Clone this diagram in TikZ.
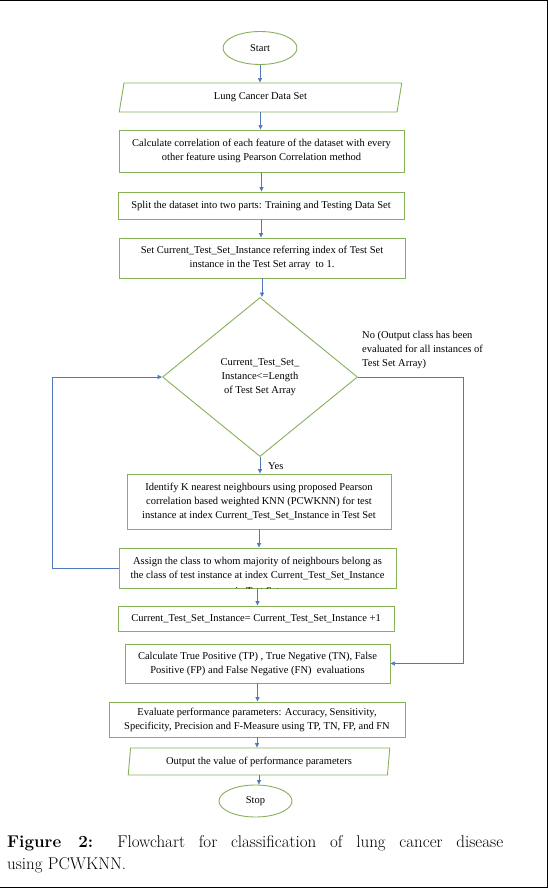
\documentclass[tikz,border=0pt]{standalone}
\usepackage{fontspec}
\newfontfamily\tnr{Liberation Serif}
\usetikzlibrary{shapes.geometric,arrows.meta}
\definecolor{boxgreen}{RGB}{135,176,90}
\definecolor{arrblue}{RGB}{80,120,190}
\begin{document}
\begin{tikzpicture}[x=1pt,y=-1pt,
  txt/.style={font=\tnr\fontsize{10.5}{14}\selectfont},
  box/.style={txt,draw=boxgreen,line width=0.9pt,rectangle,inner sep=0pt,align=center},
  term/.style={txt,draw=boxgreen,line width=0.9pt,ellipse,inner sep=0pt},
  io/.style={txt,draw=boxgreen,line width=0.9pt,trapezium,trapezium stretches=true,
     trapezium left angle=80,trapezium right angle=100,inner sep=0pt},
  dec/.style={txt,draw=boxgreen,line width=0.9pt,diamond,inner sep=0pt,align=center},
  arr/.style={draw=arrblue,line width=0.7pt,-{Triangle[length=4.5pt,width=4pt]}},
  lbl/.style={txt,inner sep=0pt,align=left}
]
\useasboundingbox (0,0) rectangle (548,888);
\draw[line width=1.3pt] (0,0.65) -- (547.35,0.65) -- (547.35,887.35) -- (0,887.35);

\node[term,minimum width=74pt,minimum height=33pt] (start) at (260,48) {Start};
\node[io,minimum width=285pt,minimum height=29pt] (data) at (260.5,97.5) {Lung Cancer Data Set};
\node[box,minimum width=285pt,minimum height=42pt] (calc) at (261.5,151) {Calculate correlation of each feature of the dataset with every\\other feature using Pearson Correlation method};
\node[box,minimum width=286pt,minimum height=27pt] (split) at (261,205.5) {Split the dataset into two parts: Training and Testing Data Set};
\node[box,minimum width=286pt,minimum height=40pt] (set) at (262,258) {Set Current\_Test\_Set\_Instance referring index of Test Set\\instance in the Test Set array\ \ to 1.};
\node[dec,minimum width=195pt,minimum height=159pt] (dec) at (260,377) {Current\_Test\_Set\_\\Instance<=Length\\of Test Set Array};
\node[box,minimum width=264pt,minimum height=55pt] (ident) at (259,501.5) {Identify K nearest neighbours using proposed Pearson\\correlation based weighted KNN (PCWKNN) for test\\instance at index Current\_Test\_Set\_Instance in Test Set};
\node[box,minimum width=277pt,minimum height=40pt] (assign) at (257.5,568) {Assign the class to whom majority of neighbours belong as\\the class of test instance at index Current\_Test\_Set\_Instance};
\begin{scope}
\clip (assign.south west) rectangle (assign.north east);
\node[txt,inner sep=0pt] (assigncut) at (257.5,591) {in Test Set};
\end{scope}
\node[box,minimum width=276pt,minimum height=25pt] (curr) at (256,618.5) {Current\_Test\_Set\_Instance= Current\_Test\_Set\_Instance +1};
\node[box,minimum width=265pt,minimum height=39pt] (tp) at (257.5,663.5) {Calculate True Positive (TP) , True Negative (TN), False\\Positive (FP) and False Negative (FN)\ \ evaluations};
\node[box,minimum width=296pt,minimum height=35pt] (eval) at (257,719.5) {Evaluate performance parameters: Accuracy, Sensitivity,\\Specificity, Precision and F-Measure using TP, TN, FP, and FN};
\node[io,minimum width=262pt,minimum height=27pt] (out) at (259,761.5) {Output the value of performance parameters};
\node[term,minimum width=73pt,minimum height=32pt] (stop) at (255.5,801) {Stop};

\node[lbl,anchor=west] (yes) at (268,466) {Yes};
\node[lbl,anchor=north west] (no) at (362,331) {No (Output class has been\\evaluated for all instances of\\Test Set Array)};

\coordinate (noX) at (463,0);
\coordinate (loopX) at (52,0);

\draw[arr] (start.south) -- (start.south |- data.north);
\draw[arr] (data.south) -- (data.south |- calc.north);
\draw[arr] (calc.south) -- (calc.south |- split.north);
\draw[arr] (split.south) -- (split.south |- set.north);
\draw[arr] (set.south) -- (set.south |- dec.north);
\draw[arr] (dec.south) -- (dec.south |- ident.north);
\draw[arr] (ident.south) -- (ident.south |- assign.north);
\draw[arr] (assign.south) -- (assign.south |- curr.north);
\draw[arr] (tp.south) -- (tp.south |- eval.north);
\draw[arr] (eval.south) -- (eval.south |- out.north);
\draw[arr] (out.south) -- (out.south |- stop.north);
\draw[arr] (dec.east) -- (dec.east -| noX) |- (tp.east);
\draw[arr] (assign.west) -- (assign.west -| loopX) |- (dec.west);

\node[anchor=north west,text width=496pt,align=justify,inner sep=0pt,
      font=\fontsize{17}{22}\selectfont] (cap) at (7,835)
  {\textbf{Figure 2:} Flowchart for classification of lung cancer disease\linebreak using PCWKNN.};
\end{tikzpicture}
\end{document}
